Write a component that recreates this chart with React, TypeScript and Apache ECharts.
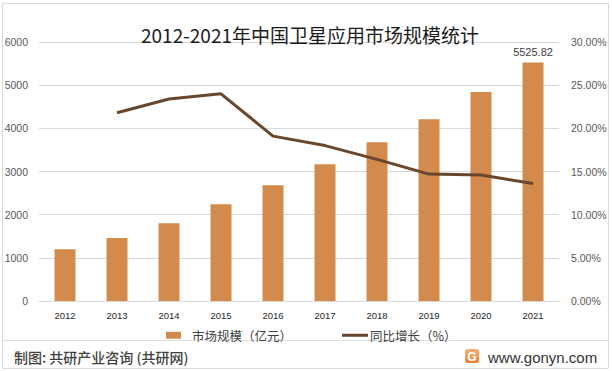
import React, { useEffect, useRef } from "react";
import * as echarts from "echarts";

const categories = ["2012", "2013", "2014", "2015", "2016", "2017", "2018", "2019", "2020", "2021"];
const marketScale = [1200, 1460, 1800, 2240, 2680, 3170, 3680, 4210, 4840, 5525.82];
const yoyGrowth = [null, 21.8, 23.4, 24.0, 19.1, 18.0, 16.4, 14.7, 14.6, 13.6];
const seriesNames = ["市场规模（亿元）", "同比增长（%）"];
const titleText = "2012-2021年中国卫星应用市场规模统计";
const footerLeft = "制图: 共研产业咨询 (共研网)";
const footerRight = "www.gonyn.com";

const CJK = '"Noto Sans CJK SC", "Microsoft YaHei", sans-serif';
const LAT = '"Liberation Sans", Arial, sans-serif';

export default function App() {
  const ref = useRef<HTMLDivElement>(null);
  useEffect(() => {
    if (!ref.current) return;
    const chart = echarts.init(ref.current, null, { renderer: "svg" });
    const barData = marketScale.map((v, i) =>
      i === marketScale.length - 1
        ? {
            value: v,
            label: {
              show: true,
              position: "top",
              distance: 5,
              fontSize: 11,
              fontFamily: LAT,
              color: "#404040",
              formatter: (p: any) => String(p.value),
            },
          }
        : v
    );
    chart.setOption({
      animation: false,
      backgroundColor: "#ffffff",
      title: {
        text: titleText,
        left: 305,
        textAlign: "center",
        top: 20,
        textStyle: { fontFamily: CJK, fontSize: 19, fontWeight: "normal", color: "#1a1a1a" },
      },
      grid: { left: 39, right: 53, top: 42, bottom: 70 },
      legend: [
        {
          data: [{ name: seriesNames[0], icon: "rect" }],
          left: 161,
          top: 324,
          itemWidth: 15,
          itemHeight: 7,
          textStyle: { fontFamily: CJK, fontSize: 12.5, color: "#404040", padding: [0, 0, 0, 6] },
        },
        {
          data: [{ name: seriesNames[1], icon: "rect" }],
          left: 337,
          top: 324,
          itemWidth: 26,
          itemHeight: 3,
          textStyle: { fontFamily: CJK, fontSize: 12.5, color: "#404040", padding: [0, 0, 0, -3] },
        },
      ],
      xAxis: {
        type: "category",
        data: categories,
        axisLine: { show: true, lineStyle: { color: "#d9d9d9", width: 1 } },
        axisTick: { show: false },
        axisLabel: { fontFamily: LAT, fontSize: 9.5, color: "#262626", margin: 9 },
      },
      yAxis: [
        {
          type: "value",
          min: 0,
          max: 6000,
          interval: 1000,
          axisLine: { show: false },
          axisTick: { show: false },
          splitLine: { lineStyle: { color: "#d9d9d9", width: 1 } },
          axisLabel: {
            fontFamily: LAT,
            fontSize: 10.5,
            color: "#595959",
            margin: 11,
            formatter: (v: number) => String(v),
          },
        },
        {
          type: "value",
          min: 0,
          max: 30,
          interval: 5,
          axisLine: { show: false },
          axisTick: { show: false },
          splitLine: { show: false },
          axisLabel: {
            fontFamily: LAT,
            fontSize: 10.5,
            color: "#595959",
            margin: 12,
            formatter: (v: number) => v.toFixed(2) + "%",
          },
        },
      ],
      series: [
        {
          name: seriesNames[0],
          type: "bar",
          data: barData,
          barWidth: 21,
          itemStyle: { color: "#D38B4D" },
        },
        {
          name: seriesNames[1],
          type: "line",
          yAxisIndex: 1,
          data: yoyGrowth,
          showSymbol: false,
          symbol: "none",
          connectNulls: false,
          lineStyle: { color: "#68472D", width: 3 },
          itemStyle: { color: "#68472D" },
        },
      ],
      graphic: [
        {
          type: "rect",
          shape: { x: 2.5, y: 3.5, width: 606, height: 365 },
          style: { fill: "none", stroke: "#d9d9d9", lineWidth: 1 },
          silent: true,
        },
        {
          type: "line",
          shape: { x1: 3, y1: 340.5, x2: 608, y2: 340.5 },
          style: { stroke: "#e0e0e0", lineWidth: 1 },
          silent: true,
        },
        {
          type: "text",
          x: 14,
          y: 357,
          style: {
            text: footerLeft,
            fontFamily: CJK,
            fontSize: 14,
            fontWeight: 500,
            fill: "#404040",
            verticalAlign: "middle",
          },
        },
        {
          type: "rect",
          shape: { x: 465, y: 349, width: 14, height: 14, r: 2 },
          style: {
            fill: new echarts.graphic.LinearGradient(0, 0, 0, 1, [
              { offset: 0, color: "#F6B07A" },
              { offset: 1, color: "#EE7F32" },
            ]),
          },
        },
        {
          type: "text",
          x: 472,
          y: 356.5,
          style: {
            text: "G",
            fontFamily: LAT,
            fontSize: 12,
            fontWeight: "bold",
            fill: "#ffffff",
            align: "center",
            verticalAlign: "middle",
          },
        },
        {
          type: "text",
          x: 488,
          y: 357,
          style: {
            text: footerRight,
            fontFamily: LAT,
            fontSize: 15,
            fill: "#333333",
            verticalAlign: "middle",
          },
        },
      ],
    });
    return () => chart.dispose();
  }, []);
  return <div ref={ref} style={{ position: "fixed", left: 0, top: 0, width: 612, height: 371 }} />;
}
